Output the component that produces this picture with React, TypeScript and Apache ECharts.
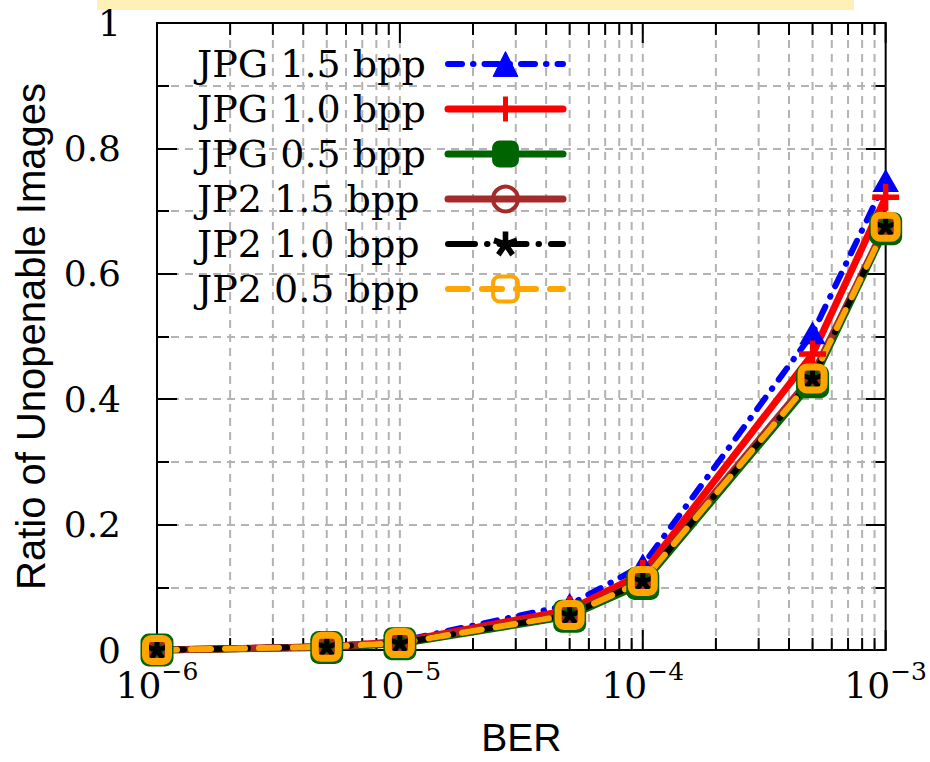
import React, { useEffect, useRef } from 'react';
import * as echarts from 'echarts';

// ---- data ----
const BER = [1e-6, 5e-6, 1e-5, 5e-5, 1e-4, 5e-4, 1e-3];
const JPG_15 = [0, 0.006, 0.014, 0.072, 0.135, 0.505, 0.748];
const JPG_10 = [0, 0.005, 0.013, 0.064, 0.122, 0.472, 0.722];
const JPG_05 = [0, 0.004, 0.010, 0.054, 0.106, 0.428, 0.672];
const JP2_15 = [0, 0.005, 0.012, 0.058, 0.113, 0.438, 0.678];
const JP2_10 = [0, 0.005, 0.011, 0.056, 0.110, 0.433, 0.675];
const JP2_05 = [0, 0.005, 0.011, 0.056, 0.110, 0.433, 0.675];
const NAMES = ['JPG 1.5 bpp', 'JPG 1.0 bpp', 'JPG 0.5 bpp', 'JP2 1.5 bpp', 'JP2 1.0 bpp', 'JP2 0.5 bpp'];
const X_DECADES = [1e-6, 1e-5, 1e-4, 1e-3];
const X_MINOR_MULT = [2, 3, 4, 5, 6, 7, 8, 9];
const X_LABEL_BASE = '10';
const X_AXIS_NAME = 'BER';
const Y_AXIS_NAME = 'Ratio of Unopenable Images';

const GRID_COLOR = '#b3b3b3';
const SERIF = 'DejaVu Serif';
const SANS = 'Liberation Sans';

function starPath(): string {
  const arms = 5;
  const r = 5;
  const t = 2.3;
  let d = '';
  for (let k = 0; k < arms; k++) {
    const a = -Math.PI / 2 + (k * 2 * Math.PI) / arms;
    const ux = Math.cos(a), uy = Math.sin(a);
    const nx = -uy, ny = ux;
    const p = [
      [-0.6 * ux + (t / 2) * nx, -0.6 * uy + (t / 2) * ny],
      [r * ux + (t / 2) * nx, r * uy + (t / 2) * ny],
      [r * ux - (t / 2) * nx, r * uy - (t / 2) * ny],
      [-0.6 * ux - (t / 2) * nx, -0.6 * uy - (t / 2) * ny],
    ];
    d += `M${p[0][0].toFixed(3)},${p[0][1].toFixed(3)}L${p[1][0].toFixed(3)},${p[1][1].toFixed(3)}L${p[2][0].toFixed(3)},${p[2][1].toFixed(3)}L${p[3][0].toFixed(3)},${p[3][1].toFixed(3)}Z`;
  }
  return 'path://' + d;
}
const PLUS = 'path://M-1,-5H1V-1H5V1H1V5H-1V1H-5V-1H-1Z';

export default function App() {
  const ref = useRef<HTMLDivElement>(null);
  useEffect(() => {
    if (!ref.current) return;
    const chart = echarts.init(ref.current, undefined, { renderer: 'svg' });

    const gridTicks: number[][] = [];
    X_DECADES.forEach((d, i) => {
      gridTicks.push([d, 1]);
      if (i < X_DECADES.length - 1) X_MINOR_MULT.forEach((m) => gridTicks.push([m * d, 0]));
    });

    const mk = (x: number[], ys: number[]) => x.map((v, i) => [v, ys[i]]);

    const specs = [
      { name: NAMES[0], data: JPG_15, color: '#0000ff', width: 6, type: [14, 11, 0.5, 11], symbol: 'triangle', size: [23, 20], fill: '#0000ff', bw: 2, lbw: 1 },
      { name: NAMES[1], data: JPG_10, color: '#ff0000', width: 7, type: 'solid', symbol: PLUS, size: 27, fill: '#ff0000', bw: 0, lbw: 0 },
      { name: NAMES[2], data: JPG_05, color: '#006400', width: 7, type: 'solid', symbol: 'roundRect', size: 33, fill: '#006400', bw: 0, lbw: 2 },
      { name: NAMES[3], data: JP2_15, color: '#a52a2a', width: 7, type: 'solid', symbol: 'circle', size: 17, fill: 'rgba(0,0,0,0)', bw: 4, lbw: 4 },
      { name: NAMES[4], data: JP2_10, color: '#000000', width: 6, type: [27, 12, 0.5, 12], symbol: starPath(), size: 22, fill: '#000000', bw: 0, lbw: 0 },
      { name: NAMES[5], data: JP2_05, color: '#ffa500', width: 6, type: [20, 14], symbol: 'roundRect', size: 23, fill: 'rgba(0,0,0,0)', bw: 7, lbw: 4 },
    ];

    const lineSeries = specs.map((s) => ({
      name: s.name,
      type: 'line',
      data: mk(BER, s.data),
      symbol: s.symbol,
      symbolSize: s.size,
      symbolKeepAspect: true,
      showAllSymbol: true,
      clip: false,
      z: 3,
      emphasis: { disabled: true },
      lineStyle: { color: s.color, width: s.width, type: s.type as any, cap: 'round', join: 'round' },
      itemStyle: { color: s.fill, borderColor: s.color, borderWidth: s.bw },
    }));

    const option: any = {
      animation: false,
      backgroundColor: '#ffffff',
      graphic: [
        { type: 'rect', shape: { x: 97, y: 0, width: 757, height: 10 }, style: { fill: '#fff0b8' }, z: 0 },
      ],
      grid: { left: 157, right: 44, top: 23, bottom: 110, show: true, borderColor: '#000', borderWidth: 2, backgroundColor: 'transparent' },
      legend: {
        orient: 'vertical',
        left: 192,
        top: 40,
        align: 'right',
        itemWidth: 115,
        itemHeight: 31,
        itemGap: 7,
        selectedMode: false,
        formatter: (n: string) => `{t|${n}}`,
        textStyle: {
          color: '#000',
          fontFamily: SERIF,
          fontSize: 38,
          lineHeight: 28,
          rich: { t: { width: 246, align: 'left', fontFamily: SERIF, fontSize: 38, lineHeight: 28, color: '#000' } },
        },
        data: specs.map((s) => ({
          name: s.name,
          itemStyle: { borderWidth: s.lbw },
          lineStyle: { width: s.width, type: s.type as any, cap: 'round', color: s.color },
        })),
      },
      xAxis: {
        type: 'log',
        logBase: 10,
        min: 1e-6,
        max: 1e-3,
        axisLine: { show: false },
        axisTick: { show: false },
        splitLine: { show: false },
        axisLabel: {
          margin: 9,
          formatter: (v: number) => `{b|${X_LABEL_BASE}}{s|\u2212${-Math.round(Math.log10(v))}}`,
          rich: {
            b: { fontFamily: SERIF, fontSize: 36, lineHeight: 44, color: '#000', verticalAlign: 'bottom' },
            s: { fontFamily: SERIF, fontSize: 25, lineHeight: 22, color: '#000', verticalAlign: 'top' },
          },
        },
        name: X_AXIS_NAME,
        nameLocation: 'middle',
        nameGap: 68,
        nameTextStyle: { fontFamily: SANS, fontSize: 39, color: '#000' },
      },
      yAxis: [
        {
          type: 'value', min: 0, max: 1, interval: 0.2, position: 'left',
          axisLine: { show: false },
          axisTick: { show: true, inside: true, length: 20, lineStyle: { color: '#000', width: 2 } },
          minorTick: { show: true, splitNumber: 2, length: 12, lineStyle: { color: '#000', width: 2 } },
          splitLine: { show: true, showMinLine: false, showMaxLine: false, lineStyle: { color: GRID_COLOR, width: 2, type: [8, 6] } },
          minorSplitLine: { show: true, lineStyle: { color: GRID_COLOR, width: 2, type: [8, 6] } },
          axisLabel: { margin: 36, fontFamily: SERIF, fontSize: 36, color: '#000' },
          name: Y_AXIS_NAME, nameLocation: 'middle', nameGap: 106,
          nameTextStyle: { fontFamily: SANS, fontSize: 40, color: '#000' },
        },
        {
          type: 'value', min: 0, max: 1, interval: 0.2, position: 'right',
          axisLine: { show: false },
          axisTick: { show: true, inside: true, length: 20, lineStyle: { color: '#000', width: 2 } },
          minorTick: { show: true, splitNumber: 2, length: 12, lineStyle: { color: '#000', width: 2 } },
          splitLine: { show: false },
          axisLabel: { show: false },
        },
      ],
      series: [
        {
          type: 'custom',
          silent: true,
          z: 1,
          clip: false,
          data: gridTicks,
          renderItem: (params: any, api: any) => {
            const v = api.value(0);
            const major = api.value(1) === 1;
            const b = api.coord([v, 0]);
            const t = api.coord([v, 1]);
            const len = major ? 20 : 12;
            const children: any[] = [];
            const edge = v <= X_DECADES[0] * 1.0001 || v >= X_DECADES[X_DECADES.length - 1] * 0.9999;
            if (!edge) {
              children.push({ type: 'line', shape: { x1: b[0], y1: b[1], x2: t[0], y2: t[1] }, style: { stroke: GRID_COLOR, lineWidth: 2, lineDash: [8, 6] }, z2: 0 });
            }
            children.push({ type: 'line', shape: { x1: b[0], y1: b[1], x2: b[0], y2: b[1] - len }, style: { stroke: '#000', lineWidth: 2 }, z2: 1 });
            children.push({ type: 'line', shape: { x1: t[0], y1: t[1], x2: t[0], y2: t[1] + len }, style: { stroke: '#000', lineWidth: 2 }, z2: 1 });
            return { type: 'group', children };
          },
        },
        ...lineSeries,
      ],
    };
    chart.setOption(option);
    return () => chart.dispose();
  }, []);
  return <div ref={ref} style={{ position: 'absolute', left: 0, top: 0, width: 930, height: 762 }} />;
}
